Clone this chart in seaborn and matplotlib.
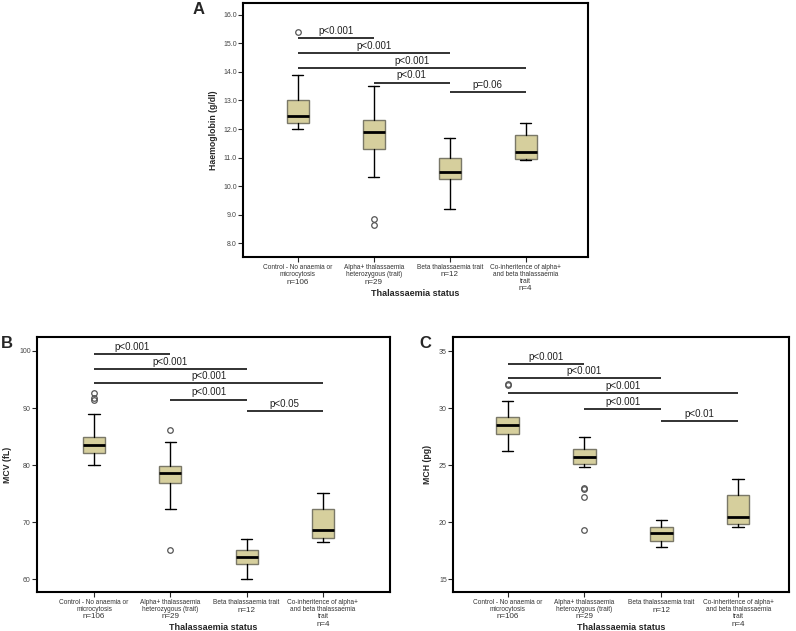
import numpy as np
import matplotlib
matplotlib.use('Agg')
import matplotlib.pyplot as plt
import seaborn as sns

# groups on the x axis
groups = ['Control - No anaemia or\nmicrocytosis',
          'Alpha+ thalassaemia\nheterozygous (trait)',
          'Beta thalassaemia trait',
          'Co-inheritence of alpha+\nand beta thalassaemia\ntrait']
group_n = ['n=106', 'n=29', 'n=12', 'n=4']

# pairwise comparison bars (same pairs on every panel)
pairs = [(0, 1), (0, 2), (0, 3), (1, 2), (2, 3)]

# Haemoglobin (g/dl)
hb_low = [12.0, 10.3, 9.2, 10.9]
hb_q1 = [12.2, 11.3, 10.25, 10.95]
hb_med = [12.45, 11.9, 10.5, 11.2]
hb_q3 = [13.0, 12.3, 11.0, 11.8]
hb_high = [13.9, 13.5, 11.7, 12.2]
hb_out = [[15.4], [8.85, 8.65], [], []]
hb_bar_y = [15.18, 14.68, 14.15, 13.63, 13.29]
hb_bar_p = ['p<0.001', 'p<0.001', 'p<0.001', 'p<0.01', 'p=0.06']

# MCV (fL)
mcv_low = [80.0, 72.3, 60.0, 66.6]
mcv_q1 = [82.2, 76.8, 62.7, 67.3]
mcv_med = [83.6, 78.7, 63.9, 68.7]
mcv_q3 = [85.0, 79.9, 65.2, 72.3]
mcv_high = [88.9, 84.1, 67.1, 75.1]
mcv_out = [[92.7, 91.7, 91.4], [86.2, 65.1], [], []]
mcv_bar_y = [99.5, 96.9, 94.4, 91.5, 89.4]
mcv_bar_p = ['p<0.001', 'p<0.001', 'p<0.001', 'p<0.001', 'p<0.05']

# MCH (pg)
mch_low = [26.2, 24.85, 17.85, 19.6]
mch_q1 = [27.75, 25.1, 18.4, 19.85]
mch_med = [28.5, 25.7, 19.1, 20.5]
mch_q3 = [29.25, 26.4, 19.55, 22.4]
mch_high = [30.6, 27.5, 20.2, 23.8]
mch_out = [[32.1, 32.0], [23.0, 22.9, 22.2, 19.3], [], []]
mch_bar_y = [33.9, 32.6, 31.35, 29.9, 28.85]
mch_bar_p = ['p<0.001', 'p<0.001', 'p<0.001', 'p<0.001', 'p<0.01']

sns.set_style('ticks')
plt.rcParams['font.family'] = ['Liberation Sans', 'DejaVu Sans']

W, H = 796, 631
fig = plt.figure(figsize=(W / 100, H / 100), dpi=100)


def px_axes(left, top, right, bottom):
    return fig.add_axes([left / W, 1 - bottom / H, (right - left) / W, (bottom - top) / H])


def panel(ax, low, q1, med, q3, high, out, bar_y, bar_p, ylim, xlim, yticks, yfmt, ylabel, ylab_px):
    stats = [dict(whislo=a, q1=b, med=c, q3=d, whishi=e, fliers=f)
             for a, b, c, d, e, f in zip(low, q1, med, q3, high, out)]
    ax.bxp(stats, positions=range(len(stats)), widths=0.29, patch_artist=True,
           capwidths=0.15,
           boxprops=dict(facecolor='#d6cf9d', edgecolor='#7a7868', linewidth=1.0),
           medianprops=dict(color='black', linewidth=2.0),
           whiskerprops=dict(color='black', linewidth=1.0),
           capprops=dict(color='black', linewidth=1.0),
           flierprops=dict(marker='o', markerfacecolor='none', markeredgecolor='#555555',
                           markersize=4, markeredgewidth=0.9))
    for (i, j), y, lab in zip(pairs, bar_y, bar_p):
        ax.plot([i, j], [y, y], color='#222222', lw=1.3, solid_capstyle='butt')
        ax.annotate(lab, xy=((i + j) / 2, y), xytext=(0, 1.5), textcoords='offset points',
                    ha='center', va='bottom', fontsize=7, color='#222222')
    ax.set_ylim(*ylim)
    ax.set_xlim(*xlim)
    ax.set_yticks(yticks)
    ax.set_yticklabels([yfmt % v for v in yticks])
    ax.set_xticks(range(len(groups)))
    ax.set_xticklabels(groups, fontsize=4.7, color='#333333', linespacing=1.0)
    ax.tick_params(axis='y', labelsize=5, labelcolor='#444444', length=3.5, width=0.8, pad=1)
    ax.tick_params(axis='x', length=3.5, width=0.8, pad=1.5)
    for sp in ax.spines.values():
        sp.set_visible(True)
        sp.set_color('black')
        sp.set_linewidth(1.5)
    tr = ax.get_xaxis_transform()
    for i, (g, n) in enumerate(zip(groups, group_n)):
        nl = g.count('\n') + 1
        ax.annotate(n, xy=(i, 0), xycoords=tr, xytext=(0, -(11 + 7 * nl) * 0.72),
                    textcoords='offset points', ha='center', va='center', fontsize=5.8,
                    color='#333333')
    ax.annotate('Thalassaemia status', xy=(0.5, 0), xycoords='axes fraction',
                xytext=(0, -36 * 0.72), textcoords='offset points', ha='center', va='center',
                fontsize=6.5, fontweight='bold')
    ax.annotate(ylabel, xy=(0, 0.5), xycoords='axes fraction',
                xytext=(-ylab_px * 0.72, 0), textcoords='offset points', ha='center', va='center',
                rotation=90, fontsize=6.3, fontweight='bold')


ax_a = px_axes(243, 3, 588, 257)
panel(ax_a, hb_low, hb_q1, hb_med, hb_q3, hb_high, hb_out, hb_bar_y, hb_bar_p,
      (7.51, 16.42), (-0.72, 3.82), np.arange(8, 17, 1), '%.1f', 'Haemoglobin (g/dl)', 30)

ax_b = px_axes(37, 337, 390, 592)
panel(ax_b, mcv_low, mcv_q1, mcv_med, mcv_q3, mcv_high, mcv_out, mcv_bar_y, mcv_bar_p,
      (57.78, 102.45), (-0.75, 3.88), np.arange(60, 101, 10), '%d', 'MCV (fL)', 30)

ax_c = px_axes(453, 337, 789, 592)
panel(ax_c, mch_low, mch_q1, mch_med, mch_q3, mch_high, mch_out, mch_bar_y, mch_bar_p,
      (13.89, 36.23), (-0.71, 3.66), np.arange(15, 36, 5), '%d', 'MCH (pg)', 25)

for letter, x, y in [('A', 199, 9), ('B', 7, 343), ('C', 425, 343)]:
    fig.text(x / W, 1 - y / H, letter, ha='center', va='center', fontsize=12, fontweight='bold')

fig.savefig('out.png', dpi=100)
